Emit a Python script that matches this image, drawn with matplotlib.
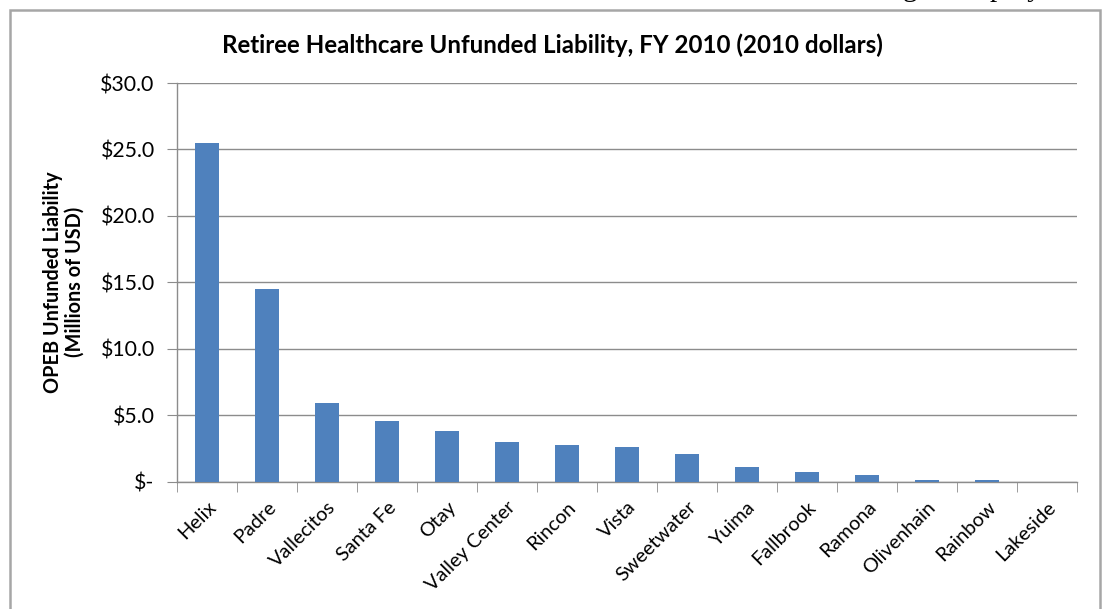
import numpy as np
import matplotlib.pyplot as plt
from matplotlib.patches import Rectangle
from matplotlib.ticker import FuncFormatter

# OPEB unfunded liability by water district, millions of USD
districts = ["Helix", "Padre", "Vallecitos", "Santa Fe", "Otay", "Valley Center",
             "Rincon", "Vista", "Sweetwater", "Yuima", "Fallbrook", "Ramona",
             "Olivenhain", "Rainbow", "Lakeside"]
liability = [25.5, 14.5, 5.9, 4.6, 3.8, 3.0, 2.8, 2.6, 2.1, 1.1, 0.7, 0.5, 0.15, 0.12, 0.0]
yticks = [0, 5, 10, 15, 20, 25, 30]

plt.rcParams['font.family'] = ['Lato', 'DejaVu Sans']

fig = plt.figure(figsize=(11.04, 6.09), dpi=100)
ax = fig.add_axes([0.1603, 0.209, 0.8152, 0.6547])

# chart frame and the clipped line of page text above it
fig.patches.append(Rectangle((10 / 1104, -0.05), 1090 / 1104, 1.05 - 10 / 609,
                             transform=fig.transFigure, fill=False,
                             edgecolor='#a6a6a6', linewidth=1.8))
fig.text(903 / 1104, 1 + 4 / 609, "g to employ", family='Liberation Serif',
         fontsize=21, color='black', va='baseline', ha='left')

x = np.arange(len(districts))
ax.bar(x, liability, width=0.4, color='#4f81bd', zorder=3)

ax.set_xlim(-0.5, len(districts) - 0.5)
ax.set_ylim(0, 30)
ax.set_yticks(yticks)
ax.yaxis.set_major_formatter(FuncFormatter(lambda v, p: "$-" if v == 0 else f"${v:.1f}"))
ax.grid(axis='y', color='#8c8c8c', linewidth=1.0, zorder=0)

ax.set_xticks(x)
ax.set_xticklabels(districts, rotation=45, ha='right', rotation_mode='anchor', fontsize=14.3)
ax.set_xticks(np.arange(-0.5, len(districts)), minor=True)
ax.tick_params(axis='x', which='major', length=0, pad=12)
ax.tick_params(axis='x', which='minor', length=7, color='#8c8c8c', direction='out')
ax.tick_params(axis='y', length=7, color='#8c8c8c', labelsize=15.3, pad=9)

for s in ['top', 'right']:
    ax.spines[s].set_visible(False)
for s in ['left', 'bottom']:
    ax.spines[s].set_color('#8c8c8c')
    ax.spines[s].set_linewidth(1.0)

ax.set_ylabel("OPEB Unfunded Liability\n(Millions of USD)", fontsize=14.3,
              fontweight='bold', labelpad=11, linespacing=1.15)
fig.text(0.5, 1 - 45 / 609, "Retiree Healthcare Unfunded Liability, FY 2010 (2010 dollars)",
         ha='center', va='center', fontsize=17.4, fontweight='bold')

fig.savefig("out.png", dpi=100)
